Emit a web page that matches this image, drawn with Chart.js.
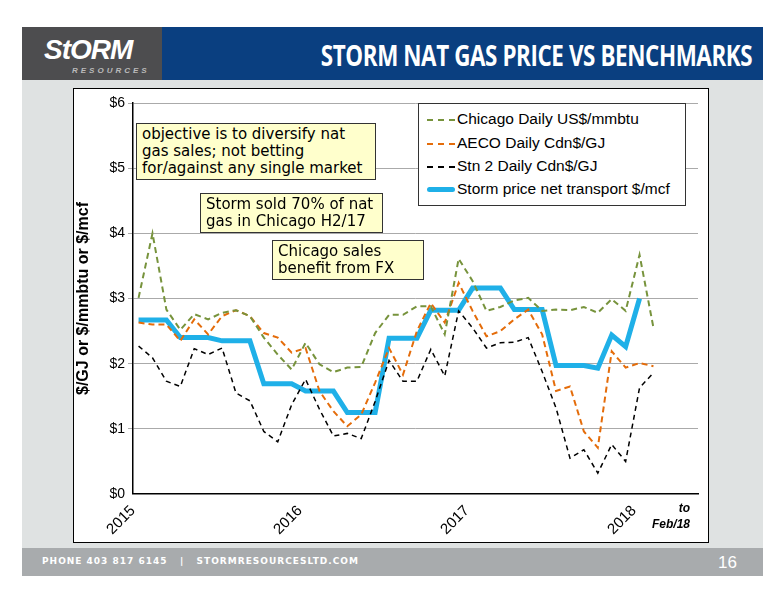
<!DOCTYPE html>
<html><head><meta charset="utf-8">
<script src="https://cdn.jsdelivr.net/npm/chart.js@4.4.1/dist/chart.umd.min.js"></script>
<style>
body{margin:0;width:776px;height:600px;background:#fff;position:relative;overflow:hidden;font-family:"Liberation Sans",Arial,sans-serif}
#bg{position:absolute;left:22px;top:80px;width:741px;height:468px;background:#dfe2e2}
#hdl{position:absolute;left:22px;top:27px;width:142px;height:53px;background:#4d4d4f}
#hdr{position:absolute;left:162px;top:27px;width:601px;height:53px;background:#0a3f80}
#logo{position:absolute;left:44px;top:34px;color:#fff;font:italic bold 28px "Liberation Sans";letter-spacing:-1px}
#logo2{position:absolute;left:72px;top:66px;color:#bbb;font:italic bold 8px "Liberation Sans";letter-spacing:3px}
#title{position:absolute;right:24px;top:36px;color:#fff;font:bold 28px "Open Sans";letter-spacing:-0.5px;transform:scaleX(0.8);transform-origin:right}
#ftr{position:absolute;left:22px;top:548px;width:741px;height:28px;background:#a8abad}
#ftxt{position:absolute;left:42px;top:556px;color:#fff;font:bold 9px "DejaVu Sans";letter-spacing:1px}
#pg{position:absolute;left:718px;top:553px;color:#fff;font:17px "Liberation Sans"}
#box{position:absolute;left:73px;top:88px;width:634px;height:453px;background:#fff;border:1.5px solid #000}
#cw{position:absolute;left:74px;top:89px;width:634px;height:453px}
.note{position:absolute;background:#ffffcc;border:1px solid #333;font:15px "DejaVu Sans";line-height:17px;padding:2px 5px;color:#000;font-family:"Comic Sans MS","DejaVu Sans"}
#leg{position:absolute;left:418px;top:103px;width:266px;height:101px;border:1px solid #333;background:#fff;font:15.5px "Liberation Sans"}
.li{position:absolute;left:8px;height:20px;white-space:nowrap}
.sw{display:inline-block;width:28px;vertical-align:middle;margin-right:2px}
#to{position:absolute;left:652px;top:500px;font:italic bold 12px "Liberation Sans";text-align:right;line-height:16px}
</style></head><body>
<div id="bg"></div><div id="hdl"></div><div id="hdr"></div>
<div id="logo">StORM</div><div id="logo2">RESOURCES</div>
<div id="title">STORM NAT GAS PRICE VS BENCHMARKS</div>
<div id="ftr"></div><div id="ftxt">PHONE 403 817 6145 &nbsp;&nbsp;| &nbsp;&nbsp;STORMRESOURCESLTD.COM</div><div id="pg">16</div>
<div id="box"></div>
<div id="cw"><canvas id="c"></canvas></div>
<div id="leg">
<div class="li" style="top:6px"><span class="sw" style="border-top:2px dashed #77933c"></span>Chicago Daily US$/mmbtu</div>
<div class="li" style="top:30px"><span class="sw" style="border-top:2px dashed #e46c0a"></span>AECO Daily Cdn$/GJ</div>
<div class="li" style="top:53px"><span class="sw" style="border-top:2px dashed #000"></span>Stn 2 Daily Cdn$/GJ</div>
<div class="li" style="top:76px"><span class="sw" style="border-top:5px solid #1fb0e8;border-radius:3px"></span>Storm price net transport $/mcf</div>
</div>
<div class="note" style="left:136px;top:123px;width:228px">objective is to diversify nat gas sales; not betting for/against any single market</div>
<div class="note" style="left:200px;top:193px;width:171px">Storm sold 70% of nat gas in Chicago H2/17</div>
<div class="note" style="left:272px;top:240px;width:140px">Chicago sales benefit from FX</div>
<div id="to">to<br>Feb/18</div>
<script>
const yearLabels=["2015","2016","2017","2018"];
const chicago=[3.01,4.0,2.83,2.52,2.76,2.68,2.78,2.82,2.73,2.40,2.14,1.91,2.32,1.99,1.87,1.94,1.95,2.47,2.75,2.75,2.88,2.88,2.45,3.61,3.27,2.81,2.87,2.97,3.01,2.81,2.83,2.82,2.87,2.78,2.99,2.81,3.67,2.55];
const aeco=[2.63,2.60,2.60,2.35,2.68,2.45,2.73,2.82,2.73,2.47,2.40,2.17,2.24,1.58,1.27,1.04,1.22,1.71,2.24,1.83,2.50,2.93,2.63,3.24,2.81,2.42,2.50,2.68,2.83,2.45,1.58,1.65,0.96,0.71,2.19,1.94,2.01,1.96];
const stn2=[2.27,2.09,1.73,1.65,2.23,2.14,2.24,1.55,1.43,0.96,0.80,1.37,1.76,1.30,0.89,0.93,0.85,1.42,2.05,1.73,1.73,2.22,1.81,2.81,2.55,2.24,2.32,2.33,2.40,1.88,1.32,0.55,0.68,0.32,0.76,0.50,1.63,1.86];
const storm=[2.67,2.67,2.67,2.40,2.40,2.40,2.35,2.35,2.35,1.69,1.69,1.69,1.58,1.58,1.58,1.25,1.25,1.25,2.39,2.39,2.39,2.82,2.82,2.82,3.16,3.16,3.16,2.83,2.83,2.83,1.97,1.97,1.97,1.93,2.44,2.26,3.00];
const pts=a=>a.map((v,i)=>({x:i+0.4,y:v}));
const ds=(l,d,c,w,dash)=>({label:l,data:pts(d),borderColor:c,borderWidth:w,borderDash:dash,pointRadius:0,fill:false,tension:0});
new Chart(document.getElementById('c'),{type:'line',
data:{datasets:[ds('Chicago',chicago,'#77933c',2,[6,4]),ds('AECO',aeco,'#e46c0a',2,[6,4]),ds('Stn2',stn2,'#000',1.5,[5,4]),ds('Storm',storm,'#1fb0e8',5,[])]},
options:{responsive:true,maintainAspectRatio:false,animation:false,
layout:{padding:{top:14,right:10}},
plugins:{legend:{display:false},tooltip:{enabled:false}},
scales:{
x:{type:'linear',min:0,max:40.6,
afterBuildTicks:s=>{s.ticks=[0,6,12,18,24,30,36].map(v=>({value:v}));},
afterFit:s=>{s.height=48;},
grid:{display:false,drawTicks:true,tickLength:5,color:'#000'},border:{color:'#000',width:1.5},
ticks:{autoSkip:false,maxRotation:45,minRotation:45,color:'#000',font:{family:'Liberation Sans',size:15},
callback:v=>v%12===0?yearLabels[v/12]:''}},
y:{min:0,max:6,
afterFit:s=>{s.width=59;},
afterBuildTicks:s=>{s.ticks=[0,1,2,3,4,5,6].map(v=>({value:v}));},
grid:{color:'#aaa',borderDash:[2,2],tickLength:5,lineWidth:c=>c.tick.value===0?0:1},border:{color:'#000',width:1.5},
ticks:{color:'#000',font:{family:'Liberation Sans',size:14},callback:v=>'$'+v},
title:{display:true,text:'$/GJ or $/mmbtu or $/mcf',color:'#000',font:{family:'Liberation Sans',size:16,weight:'bold'},padding:0}}
}}});
</script></body></html>
